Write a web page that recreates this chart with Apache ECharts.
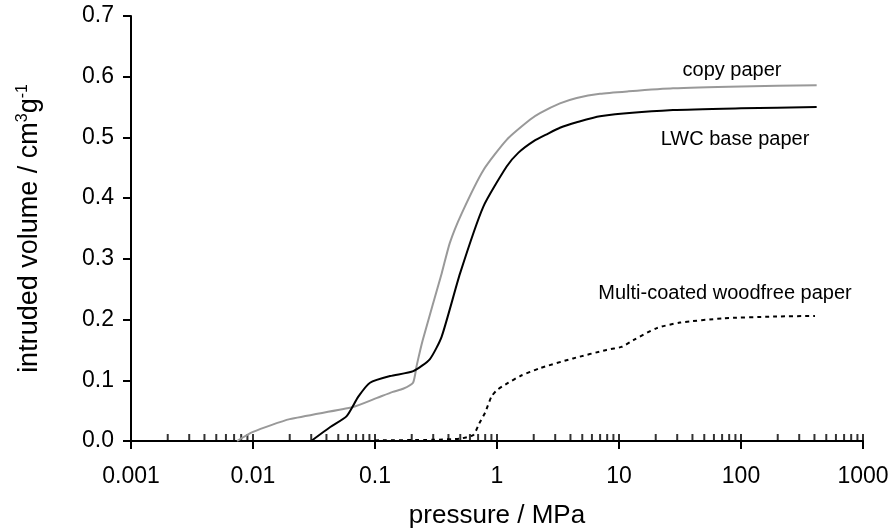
<!DOCTYPE html>
<html>
<head>
<meta charset="utf-8">
<script src="https://cdn.jsdelivr.net/npm/echarts@6/dist/echarts.min.js"></script>
<style>html,body{margin:0;padding:0;background:#fff;}#c{width:891px;height:531px;}</style>
</head>
<body>
<div id="c"></div>
<script>
// Data
var xTickLabels = ['0.001', '0.01', '0.1', '1', '10', '100', '1000'];
var yTickLabels = ['0.0', '0.1', '0.2', '0.3', '0.4', '0.5', '0.6', '0.7'];

var copyPressure = [0.0074, 0.01, 0.02, 0.066, 0.104, 0.14, 0.17, 0.205, 0.22, 0.246, 0.352, 0.41, 0.514, 0.773, 1.2, 1.86, 2.25, 3.28, 4.5, 6.98, 12, 27.7, 100, 417];
var copyVolume   = [0.000, 0.015, 0.036, 0.056, 0.071, 0.081, 0.086, 0.096, 0.125, 0.166, 0.276, 0.326, 0.375, 0.446, 0.496, 0.529, 0.540, 0.556, 0.565, 0.572, 0.576, 0.581, 0.584, 0.586];

var lwcPressure = [0.030, 0.043, 0.0586, 0.073, 0.091, 0.133, 0.206, 0.282, 0.352, 0.498, 0.773, 1.2, 1.5, 2.0, 2.6, 3.28, 4.5, 6.98, 27.7, 100, 417];
var lwcVolume   = [0.000, 0.023, 0.041, 0.073, 0.096, 0.107, 0.115, 0.135, 0.172, 0.276, 0.386, 0.452, 0.475, 0.494, 0.506, 0.516, 0.525, 0.535, 0.545, 0.548, 0.550];

var mcwPressure = [0.1, 0.3, 0.5, 0.64, 0.716, 0.80, 0.90, 1.0, 1.24, 1.55, 2.25, 4.2, 7.9, 10.5, 13.1, 20.4, 31.6, 71.6, 184, 404];
var mcwVolume   = [0.001, 0.002, 0.004, 0.010, 0.029, 0.047, 0.073, 0.084, 0.096, 0.107, 0.120, 0.136, 0.150, 0.155, 0.166, 0.186, 0.195, 0.202, 0.205, 0.206];

var minorTickMultipliers = [1, 2, 3, 4, 5, 6, 7, 8, 9];
var decades = [0.001, 0.01, 0.1, 1, 10, 100];

function zip(a, b) { return a.map(function (v, i) { return [v, b[i]]; }); }
var minorTicks = [];
decades.forEach(function (d) {
  minorTickMultipliers.forEach(function (m) { minorTicks.push([+(d * m).toPrecision(6), 0]); });
});
minorTicks.push([1000, 0]);

var FONT = 'Liberation Sans';
var chart = echarts.init(document.getElementById('c'));
chart.setOption({
  animation: false,
  backgroundColor: '#fff',
  grid: { left: 131, right: 28, top: 16, bottom: 90, containLabel: false, outerBoundsMode: 'none' },
  xAxis: {
    type: 'log', logBase: 10, min: 0.001, max: 1000,
    name: 'pressure / MPa', nameLocation: 'middle', nameGap: 62,
    nameTextStyle: { fontFamily: FONT, fontSize: 26, color: '#000' },
    axisLine: { onZero: false, lineStyle: { color: '#000', width: 2 } },
    axisTick: { inside: false, length: 8, lineStyle: { color: '#000', width: 2 } },
    axisLabel: {
      fontFamily: FONT, fontSize: 23, color: '#000', margin: 24,
      formatter: function (v) { var i = Math.round(Math.log10(v)) + 3; return xTickLabels[i]; }
    },
    splitLine: { show: false }, minorTick: { show: false }
  },
  yAxis: {
    type: 'value', min: 0, max: 0.7, interval: 0.1,
    name: 'intruded volume / cm{sup|3}g{sup|-1}', nameLocation: 'middle', nameGap: 86,
    nameTextStyle: {
      fontFamily: FONT, fontSize: 27, color: '#000',
      rich: { sup: { fontFamily: FONT, fontSize: 16, color: '#000', verticalAlign: 'top', padding: [0, 0, 14, 0] } }
    },
    axisLine: { show: true, lineStyle: { color: '#000', width: 2 } },
    axisTick: { show: true, inside: false, length: 8, lineStyle: { color: '#000', width: 2 } },
    axisLabel: {
      fontFamily: FONT, fontSize: 23, color: '#000', margin: 17,
      formatter: function (v) { return yTickLabels[Math.round(v * 10)]; }
    },
    splitLine: { show: false }
  },
  series: [
    {
      type: 'scatter', data: minorTicks, silent: true, clip: false, z: 1,
      symbol: 'rect', symbolSize: [2, 7], symbolOffset: [0, -3.5],
      itemStyle: { color: '#000' }
    },
    {
      name: 'copy paper', type: 'line', data: zip(copyPressure, copyVolume),
      showSymbol: false, smooth: 0.2, z: 3,
      lineStyle: { color: '#999999', width: 2 }
    },
    {
      name: 'LWC base paper', type: 'line', data: zip(lwcPressure, lwcVolume),
      showSymbol: false, smooth: 0.2, z: 4,
      lineStyle: { color: '#000', width: 2 }
    },
    {
      name: 'Multi-coated woodfree paper', type: 'line', data: zip(mcwPressure, mcwVolume),
      showSymbol: false, smooth: 0.2, z: 4,
      lineStyle: { color: '#000', width: 2, type: [4, 4] }
    }
  ],
  graphic: [
    { type: 'text', x: 732, y: 70, style: { text: 'copy paper', fontFamily: FONT, fontSize: 20, fill: '#000', align: 'center', verticalAlign: 'middle' } },
    { type: 'text', x: 735, y: 139, style: { text: 'LWC base paper', fontFamily: FONT, fontSize: 20, fill: '#000', align: 'center', verticalAlign: 'middle' } },
    { type: 'text', x: 725, y: 293, style: { text: 'Multi-coated woodfree paper', fontFamily: FONT, fontSize: 20, fill: '#000', align: 'center', verticalAlign: 'middle' } }
  ]
});
</script>
</body>
</html>
